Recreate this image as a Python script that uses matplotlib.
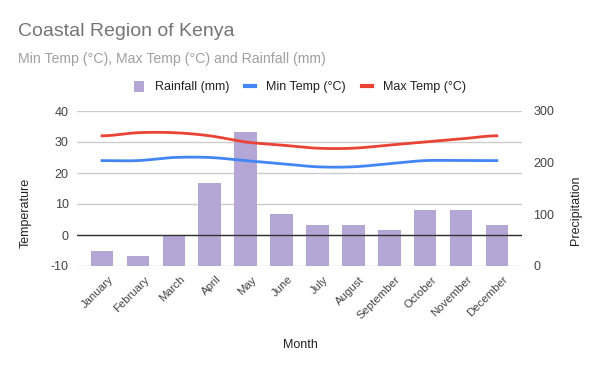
import numpy as np
import matplotlib
matplotlib.use("Agg")
import matplotlib.pyplot as plt
from matplotlib.patches import Patch
from matplotlib.lines import Line2D

plt.rcParams['font.family'] = ['Liberation Sans', 'DejaVu Sans']
plt.rcParams['axes.unicode_minus'] = False

months = ["January", "February", "March", "April", "May", "June", "July",
          "August", "September", "October", "November", "December"]
rainfall = [29, 20, 60, 160, 260, 100, 80, 80, 70, 108, 108, 80]
min_temp = [24, 24, 25, 25, 24, 23, 22, 22, 23, 24, 24, 24]
max_temp = [32, 33, 33, 32, 30, 29, 28, 28, 29, 30, 31, 32]
temp_ticks = [-10, 0, 10, 20, 30, 40]
precip_ticks = [0, 100, 200, 300]

BAR = '#b4a7d6'
BLUE = '#4285f4'
RED = '#ea4335'
TXT = '#444444'


def smooth(xs, ys, n=20):
    xs = np.asarray(xs, float)
    ys = np.asarray(ys, float)
    m = np.zeros_like(ys)
    m[1:-1] = (ys[2:] - ys[:-2]) / 2.0
    m[0] = 0
    m[-1] = 0
    ox, oy = [], []
    for i in range(len(xs) - 1):
        t = np.linspace(0, 1, n, endpoint=False)
        h00 = 2*t**3 - 3*t**2 + 1
        h10 = t**3 - 2*t**2 + t
        h01 = -2*t**3 + 3*t**2
        h11 = t**3 - t**2
        ox.extend(xs[i] + t*(xs[i+1]-xs[i]))
        oy.extend(h00*ys[i] + h10*m[i] + h01*ys[i+1] + h11*m[i+1])
    ox.append(xs[-1]); oy.append(ys[-1])
    return np.array(ox), np.array(oy)


fig = plt.figure(figsize=(6, 3.71), dpi=100)
ax = fig.add_axes([77/600, 1-266/371, (522-77)/600, (266-111)/371])
ax2 = ax.twinx()

x = np.arange(len(months))

ax2.bar(x, rainfall, width=0.63, color=BAR, zorder=1)
ax2.set_ylim(0, 300)
ax2.set_yticks(precip_ticks)
ax2.tick_params(axis='y', length=0, labelsize=9, labelcolor=TXT, pad=8)
for s in ax2.spines.values():
    s.set_visible(False)

ax.set_ylim(-10, 40)
ax.set_yticks(temp_ticks)
ax.yaxis.grid(True, color='#cccccc', linewidth=1)
ax.set_axisbelow(True)
ax.tick_params(axis='y', length=0, labelsize=9, labelcolor=TXT, pad=6)
for s in ax.spines.values():
    s.set_visible(False)
ax.set_xlim(-0.7, 11.7)
ax.set_xticks(x)
ax.set_xticklabels([])
ax.tick_params(axis='x', length=0)
for i, m in enumerate(months):
    ax.annotate(m, xy=(x[i], 0), xycoords=('data', 'axes fraction'),
                xytext=(4.3, -6.0), textcoords='offset points',
                rotation=45, ha='right', va='top', rotation_mode='anchor',
                fontsize=8.2, color=TXT, annotation_clip=False)

ax.set_zorder(ax2.get_zorder() - 1)
ax.patch.set_visible(False)


def t2p(v):
    return (np.asarray(v) + 10) * 300 / 50.0

ax2.axhline(t2p(0), color='#333333', linewidth=1, zorder=2)
sx, sy = smooth(x, min_temp)
ax2.plot(sx, t2p(sy), color=BLUE, linewidth=2, zorder=3)
sx, sy = smooth(x, max_temp)
ax2.plot(sx, t2p(sy), color=RED, linewidth=2, zorder=3)

fig.patch.set_facecolor('white')
fig.text(18/600, 1-36/371, "Coastal Region of Kenya", fontsize=14, color='#757575',
         ha='left', va='baseline')
fig.text(18/600, 1-63/371, "Min Temp (°C), Max Temp (°C) and Rainfall (mm)",
         fontsize=10.2, color='#a0a0a0', ha='left', va='baseline')

handles = [Patch(facecolor=BAR, edgecolor='none', label='Rainfall (mm)'),
           Line2D([0], [0], color=BLUE, lw=3, label='Min Temp (°C)'),
           Line2D([0], [0], color=RED, lw=3, label='Max Temp (°C)')]
fig.legend(handles=handles, loc='center', bbox_to_anchor=(300/600, 1-87/371),
           ncol=3, frameon=False, fontsize=9, handlelength=0.8, handleheight=1.0,
           columnspacing=1.25, handletextpad=0.9, labelcolor='#222222')

fig.text(26/600, 1-213/371, "Temperature", rotation=90, fontsize=9, color='#222222',
         ha='center', va='center')
fig.text(576/600, 1-210/371, "Precipitation", rotation=90, fontsize=9, color='#222222',
         ha='center', va='center')
fig.text(300/600, 1-345/371, "Month", fontsize=9, color='#222222', ha='center', va='center')

fig.savefig("out.png", dpi=100, facecolor='white')
